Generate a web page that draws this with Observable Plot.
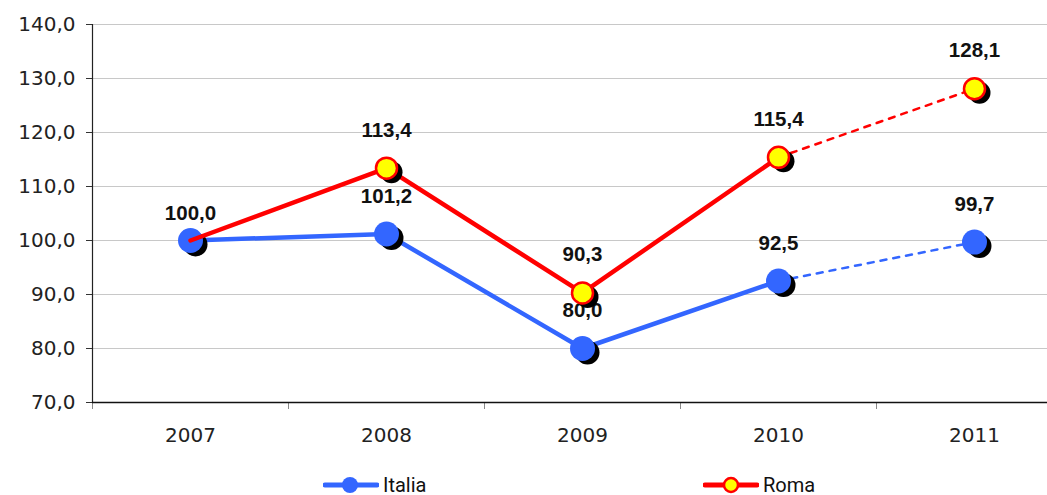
<!DOCTYPE html>
<html><head><meta charset="utf-8">
<script src="https://cdn.jsdelivr.net/npm/d3@7"></script>
<script src="https://cdn.jsdelivr.net/npm/@observablehq/plot@0.6"></script>
<style>
body{margin:0;background:#fff;overflow:hidden;}
#legend{position:relative;width:1047px;height:40px;font-family:Roboto,"Liberation Sans",sans-serif;font-size:20px;line-height:18px;color:#111;}
.item{position:absolute;top:21px;height:18px;display:flex;align-items:center;}
.item svg{margin-right:4px;display:block}
</style></head><body>
<div id="chart"></div>
<div id="legend">
 <div class="item" style="left:323px"><svg width="56" height="18"><line x1="2" y1="9" x2="54" y2="9" stroke="#3366ff" stroke-width="5" stroke-linecap="round"/><circle cx="27" cy="9" r="8" fill="#3366ff"/></svg><span>Italia</span></div>
 <div class="item" style="left:703px"><svg width="56" height="18"><line x1="2" y1="9" x2="54" y2="9" stroke="#ff0000" stroke-width="5" stroke-linecap="round"/><circle cx="28" cy="9" r="7" fill="#ffff00" stroke="#ff0000" stroke-width="2.5"/></svg><span>Roma</span></div>
</div>
<script>
const years = [2007, 2008, 2009, 2010, 2011];
const italia = [100.0, 101.2, 80.0, 92.5, 99.7];
const roma = [100.0, 113.4, 90.3, 115.4, 128.1];
const yTicks = [70, 80, 90, 100, 110, 120, 130, 140];

const fmt = d => d.toFixed(1).replace(".", ",");
const it = years.map((y, i) => ({year: y, v: italia[i]}));
const ro = years.map((y, i) => ({year: y, v: roma[i]}));
const solid = a => a.filter(d => d.year <= 2010);
const dashed = a => a.filter(d => d.year >= 2010);
const labStyle = {x: "year", y: "v", text: d => fmt(d.v), fontSize: 20.5, fontWeight: "bold", fontFamily: "Liberation Sans", fill: "#111"};

const chart = Plot.plot({
  width: 1047, height: 455,
  marginLeft: 92, marginRight: 0, marginTop: 24, marginBottom: 53,
  style: {fontFamily: "DejaVu Sans", background: "#fff", overflow: "visible"},
  x: {type: "linear", domain: [2006.5, 2006.5 + 955 / 196]},
  y: {domain: [70, 140]},
  marks: [
    Plot.gridY(yTicks, {stroke: "#c8c8c8", strokeOpacity: 1}),
    Plot.axisY(yTicks, {tickFormat: fmt, tickSize: 6, tickPadding: 11, fontSize: 20, fill: "#222", stroke: "#333", label: null}),
    Plot.axisX([2006.5, 2007.5, 2008.5, 2009.5, 2010.5], {tickFormat: () => "", tickSize: 7, stroke: "#888", label: null}),
    Plot.axisX(years, {tickFormat: d => String(d), tickSize: 0, tickPadding: 25, fontSize: 20, fill: "#222", label: null}),
    Plot.ruleX([2006.5], {stroke: "#222", strokeWidth: 1.2}),
    Plot.ruleY([70], {stroke: "#111", strokeWidth: 1.5}),
    // Italia
    Plot.line(solid(it), {x: "year", y: "v", stroke: "#3366ff", strokeWidth: 4.5}),
    Plot.line(dashed(it), {x: "year", y: "v", stroke: "#3366ff", strokeWidth: 2.5, strokeDasharray: "6,7"}),
    Plot.dot(it, {x: "year", y: "v", r: 12, fill: "#000", dx: 5, dy: 4}),
    Plot.dot(it, {x: "year", y: "v", r: 12.5, fill: "#3366ff"}),
    Plot.text(it, {...labStyle, dy: -38, filter: d => d.year !== 2007}),
    // Roma
    Plot.line(solid(ro), {x: "year", y: "v", stroke: "#ff0000", strokeWidth: 4.5}),
    Plot.line(dashed(ro), {x: "year", y: "v", stroke: "#ff0000", strokeWidth: 2.5, strokeDasharray: "6,7"}),
    Plot.dot(ro, {x: "year", y: "v", r: 11, fill: "#000", dx: 5, dy: 4, filter: d => d.year !== 2007}),
    Plot.dot(ro, {x: "year", y: "v", r: 10.5, fill: "#ffff00", stroke: "#ff0000", strokeWidth: 2.5, filter: d => d.year !== 2007}),
    Plot.text(ro, {...labStyle, dy: -38, filter: d => d.year !== 2007}),
    Plot.text(it, {...labStyle, dy: -27, filter: d => d.year === 2007})
  ]
});
document.getElementById("chart").appendChild(chart);
</script>
</body></html>
